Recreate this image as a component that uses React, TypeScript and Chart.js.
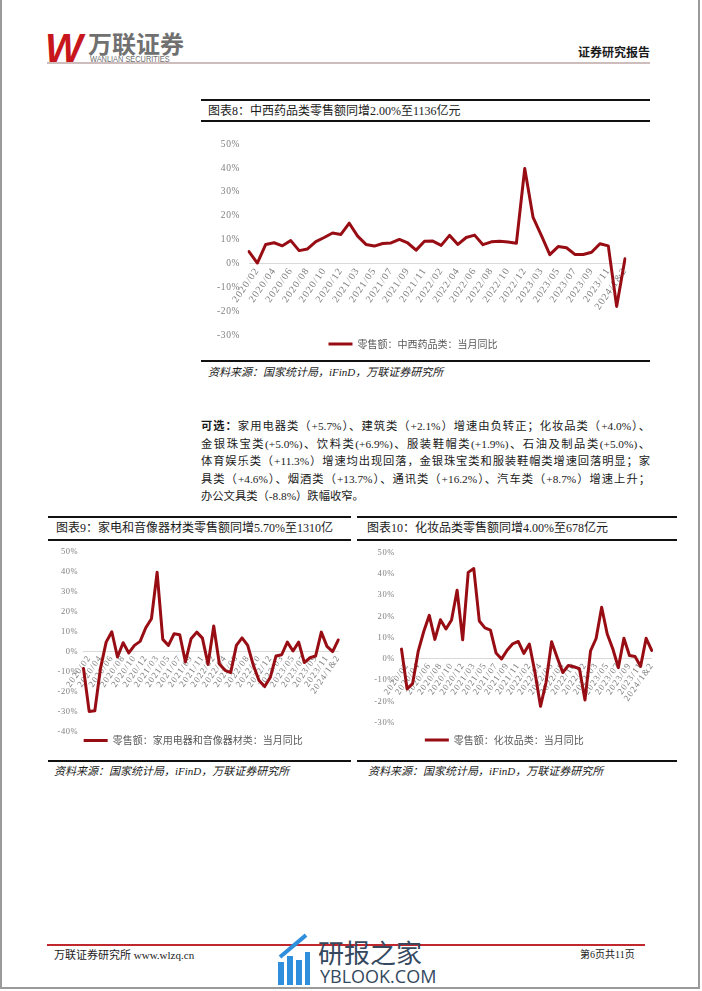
import React, { useEffect, useRef } from 'react';
import { Chart, registerables } from 'chart.js';

Chart.register(...registerables);

// ---------- data ----------
const categories: string[] = [
  '2019/12',
  '2020/02', '2020/03', '2020/04', '2020/05', '2020/06', '2020/07', '2020/08', '2020/09', '2020/10', '2020/11', '2020/12',
  '2021/02', '2021/03', '2021/04', '2021/05', '2021/06', '2021/07', '2021/08', '2021/09', '2021/10', '2021/11', '2021/12',
  '2022/02', '2022/03', '2022/04', '2022/05', '2022/06', '2022/07', '2022/08', '2022/09', '2022/10', '2022/11', '2022/12',
  '2023/02', '2023/03', '2023/04', '2023/05', '2023/06', '2023/07', '2023/08', '2023/09', '2023/10', '2023/11', '2023/12',
  '2024/1&2',
];

const medicineYoY: number[] = [
  5.0, 0.2, 8.0, 8.7, 7.4, 9.6, 5.4, 6.1, 9.2, 10.9, 12.8, 12.2,
  16.9, 11.5, 8.0, 7.3, 8.4, 8.6, 10.1, 8.6, 5.6, 9.3, 9.4,
  7.6, 11.8, 8.0, 10.9, 11.9, 7.9, 9.1, 9.3, 9.0, 8.5, 39.8,
  19.3, 11.7, 3.7, 7.1, 6.6, 3.8, 3.8, 4.7, 8.3, 7.4, -18.0,
  2.0,
];

const applianceYoY: number[] = [
  -8.6, -30.0, -29.7, -8.5, 4.6, 9.8, -2.8, 4.3, -0.8, 3.0, 5.0, 11.8,
  16.3, 39.5, 6.0, 3.0, 8.8, 8.3, -5.3, 6.3, 9.6, 6.6, -6.5,
  12.7, -6.3, -9.5, -10.6, 3.0, 6.7, 3.0, -7.0, -14.6, -17.6, -12.9,
  -2.3, -1.7, 4.6, 0.2, 4.6, -5.6, -3.2, -2.3, 9.6, 2.5, -0.1,
  5.7,
];

const cosmeticsYoY: number[] = [
  4.6, -14.1, -11.6, 3.5, 12.9, 20.5, 9.2, 18.4, 14.1, 18.3, 32.3, 9.0,
  40.7, 42.5, 17.8, 14.6, 13.5, 2.8, 0.0, 4.1, 7.1, 8.2, 2.6,
  7.0, -6.3, -22.3, -11.0, 8.1, 0.7, -6.4, -3.1, -3.7, -4.6, -19.3,
  3.8, 9.6, 24.3, 11.7, 4.8, -4.1, 9.7, 1.6, 1.1, -3.5, 9.7,
  4.0,
];

const paragraphLines: string[] = [
  '家用电器类（+5.7%）、建筑类（+2.1%）增速由负转正；化妆品类（+4.0%）、',
  '金银珠宝类(+5.0%)、饮料类(+6.9%)、服装鞋帽类(+1.9%)、石油及制品类(+5.0%)、',
  '体育娱乐类（+11.3%）增速均出现回落，金银珠宝类和服装鞋帽类增速回落明显；家',
  '具类（+4.6%）、烟酒类（+13.7%）、通讯类（+16.2%）、汽车类（+8.7%）增速上升；',
  '办公文具类（-8.8%）跌幅收窄。',
];

// ---------- styles ----------
const LINE = '#980d14';
const CJK = "'Liberation Serif', 'Noto Sans CJK SC', serif";
const CJK_SANS = "'Noto Sans CJK SC', sans-serif";
const SERIF = "'Liberation Serif', serif";

function spaceLabels(scale: any, spacing: string) {
  if (scale.__spaced) return;
  const orig = scale.drawLabels.bind(scale);
  scale.drawLabels = (area: any) => {
    const ctx = scale.ctx as any;
    ctx.save();
    ctx.letterSpacing = spacing;
    orig(area);
    ctx.restore();
  };
  scale.__spaced = true;
}

type LineBoxProps = {
  left: number; top: number; width: number; height: number;
  values: number[]; label: string;
  yMin: number; yMax: number;
  padTop: number; padRight: number; padBottom: number;
  yAxisWidth: number; yTickPad: number;
  yTickFont: number; xTickFont: number;
  legendFont: number; legendPad: number; legendLineW: number;
};

function LineBox(p: LineBoxProps) {
  const ref = useRef<HTMLCanvasElement>(null);
  useEffect(() => {
    const chart = new Chart(ref.current as HTMLCanvasElement, {
      type: 'line',
      data: {
        labels: categories,
        datasets: [
          {
            label: p.label,
            data: p.values,
            borderColor: LINE,
            backgroundColor: LINE,
            borderWidth: 3,
            pointRadius: 0,
            tension: 0,
            borderJoinStyle: 'round',
            borderCapStyle: 'round',
          },
        ],
      },
      options: {
        animation: false,
        responsive: false,
        layout: { padding: { top: p.padTop, right: p.padRight, bottom: p.padBottom, left: 0 } },
        plugins: {
          legend: {
            position: 'bottom',
            labels: {
              usePointStyle: true,
              pointStyle: 'line',
              pointStyleWidth: p.legendLineW,
              color: '#595959',
              padding: p.legendPad,
              font: { size: p.legendFont, family: CJK_SANS },
            },
          },
          tooltip: { enabled: false },
        },
        scales: {
          x: {
            type: 'category',
            position: { y: 0 } as any,
            offset: false,
            grid: { display: false, drawTicks: false },
            border: { display: true, color: '#d9d9d9', width: 1 },
            ticks: {
              autoSkip: false,
              minRotation: 55,
              maxRotation: 55,
              padding: 2,
              color: '#7f7f7f',
              font: { size: p.xTickFont, family: SERIF },
              callback: (_v: any, i: number) => (i % 2 === 1 ? categories[i] : ''),
            },
            afterUpdate: (s: any) => spaceLabels(s, '1px'),
          },
          y: {
            min: p.yMin,
            max: p.yMax,
            grid: { display: false, drawTicks: false },
            border: { display: false },
            ticks: {
              stepSize: 10,
              padding: p.yTickPad,
              color: '#7f7f7f',
              font: { size: p.yTickFont, family: SERIF },
              callback: (v: any) => `${v}%`,
            },
            afterFit: (s: any) => {
              s.width = p.yAxisWidth;
            },
            afterUpdate: (s: any) => spaceLabels(s, '0.6px'),
          },
        },
      },
    });
    return () => chart.destroy();
  }, []);
  return (
    <canvas
      ref={ref}
      width={p.width}
      height={p.height}
      style={{ position: 'absolute', left: p.left, top: p.top, width: p.width, height: p.height }}
    />
  );
}

function T(props: {
  x: number; y: number; size: number; children: React.ReactNode;
  color?: string; bold?: boolean; italic?: boolean; family?: string; style?: React.CSSProperties;
}) {
  return (
    <div
      style={{
        position: 'absolute',
        left: props.x,
        top: props.y - props.size / 2,
        fontSize: props.size,
        lineHeight: `${props.size}px`,
        color: props.color || '#1a1a1a',
        fontWeight: props.bold ? 700 : 400,
        fontStyle: props.italic ? 'italic' : 'normal',
        fontFamily: props.family || CJK,
        whiteSpace: 'nowrap',
        ...props.style,
      }}
    >
      {props.children}
    </div>
  );
}

function Rule(props: { x: number; y: number; w: number; h?: number; color?: string }) {
  return (
    <div
      style={{
        position: 'absolute',
        left: props.x,
        top: props.y,
        width: props.w,
        height: props.h || 2,
        background: props.color || '#111',
      }}
    />
  );
}

export default function App() {
  return (
    <div
      style={{
        position: 'absolute',
        left: 0,
        top: 0,
        width: 702,
        height: 991,
        background: '#fff',
        overflow: 'hidden',
      }}
    >
      {/* page frame */}
      <div style={{ position: 'absolute', left: 0, top: -2, width: 696, height: 989, borderLeft: '2px solid #9a9a9a', borderRight: '2px solid #9a9a9a', borderBottom: '2px solid #9a9a9a' }} />

      {/* header */}
      <div style={{ position: 'absolute', left: 45, top: 28, fontSize: 40, lineHeight: '40px', fontFamily: "'Liberation Sans', sans-serif", fontWeight: 700, fontStyle: 'italic', color: '#c8161d' }}>W</div>
      <div style={{ position: 'absolute', left: 88, top: 31, fontSize: 24, lineHeight: '24px', fontFamily: CJK_SANS, fontWeight: 700, color: '#707070' }}>万联证券</div>
      <div style={{ position: 'absolute', left: 90, top: 55, fontSize: 9, lineHeight: '9px', fontFamily: "'Liberation Sans', sans-serif", color: '#6e6e6e', transform: 'scaleX(0.82)', transformOrigin: 'left top', whiteSpace: 'nowrap' }}>WANLIAN SECURITIES</div>
      <T x={578} y={52} size={12} bold family={CJK_SANS}>证券研究报告</T>
      <Rule x={47} y={62} w={603} h={1.5} color="#cdbdbd" />

      {/* chart 8 */}
      <Rule x={201} y={99} w={449} />
      <T x={208} y={110.5} size={12}>图表8：中西药品类零售额同增2.00%至1136亿元</T>
      <Rule x={201} y={120} w={449} />
      <LineBox
        left={201} top={123} width={449} height={237}
        values={medicineYoY} label="零售额：中西药品类：当月同比"
        yMin={-30} yMax={50}
        padTop={21.3} padRight={25} padBottom={1}
        yAxisWidth={48} yTickPad={9}
        yTickFont={9.5} xTickFont={10}
        legendFont={10} legendPad={4} legendLineW={24}
      />
      <Rule x={201} y={360} w={449} />
      <T x={208} y={372} size={11} italic>资料来源：国家统计局，iFinD，万联证券研究所</T>

      {/* paragraph */}
      <div style={{ position: 'absolute', left: 201, top: 418, width: 449, fontSize: 11.3, lineHeight: '17.6px', fontFamily: CJK, color: '#1a1a1a' }}>
        {paragraphLines.map((line, i) => (
          <div key={i} style={{ textAlign: 'justify', textAlignLast: i < paragraphLines.length - 1 ? 'justify' : 'left', height: 17.6 }}>
            {i === 0 ? <b>可选：</b> : null}
            {line}
          </div>
        ))}
      </div>

      {/* chart 9 */}
      <Rule x={48} y={516} w={303} />
      <T x={56} y={528} size={12}>图表9：家电和音像器材类零售额同增5.70%至1310亿</T>
      <Rule x={48} y={538.5} w={303} />
      <LineBox
        left={48} top={541} width={304} height={219}
        values={applianceYoY} label="零售额：家用电器和音像器材类：当月同比"
        yMin={-40} yMax={50}
        padTop={9.7} padRight={13.7} padBottom={4.6}
        yAxisWidth={35.5} yTickPad={5.2}
        yTickFont={8.5} xTickFont={9}
        legendFont={10} legendPad={4} legendLineW={24}
      />
      <Rule x={48} y={759.5} w={303} />
      <T x={54} y={771} size={11} italic>资料来源：国家统计局，iFinD，万联证券研究所</T>

      {/* chart 10 */}
      <Rule x={357} y={516} w={320} />
      <T x={367} y={528} size={12}>图表10：化妆品类零售额同增4.00%至678亿元</T>
      <Rule x={357} y={538.5} w={320} />
      <LineBox
        left={357} top={541} width={320} height={219}
        values={cosmeticsYoY} label="零售额：化妆品类：当月同比"
        yMin={-30} yMax={50}
        padTop={7.3} padRight={25.3} padBottom={5}
        yAxisWidth={44.5} yTickPad={6.5}
        yTickFont={8.5} xTickFont={9}
        legendFont={10} legendPad={12.3} legendLineW={24}
      />
      <Rule x={357} y={759.5} w={320} />
      <T x={368} y={771} size={11} italic>资料来源：国家统计局，iFinD，万联证券研究所</T>

      {/* footer */}
      <Rule x={47} y={944} w={598} h={1.5} color="#c0282d" />
      <T x={54} y={955} size={11}>万联证券研究所 www.wlzq.cn</T>
      <T x={580} y={955} size={10}>第6页共11页</T>

      {/* watermark */}
      <div style={{ position: 'absolute', left: 278, top: 962, width: 6, height: 23, background: '#2f8fdc' }} />
      <div style={{ position: 'absolute', left: 287, top: 956, width: 6, height: 29, background: '#2f8fdc' }} />
      <div style={{ position: 'absolute', left: 296, top: 960, width: 6, height: 25, background: '#2f8fdc' }} />
      <div style={{ position: 'absolute', left: 305, top: 952, width: 5, height: 33, background: '#2f8fdc' }} />
      <div style={{ position: 'absolute', left: 280, top: 955, width: 34, height: 4, background: '#2f8fdc', transform: 'rotate(-40deg)', transformOrigin: 'left center' }} />
      <div style={{ position: 'absolute', left: 318, top: 939, fontSize: 26, lineHeight: '26px', fontFamily: CJK_SANS, color: '#34495e', whiteSpace: 'nowrap' }}>研报之家</div>
      <div style={{ position: 'absolute', left: 320, top: 967, fontSize: 18, lineHeight: '18px', fontFamily: "'Open Sans', 'Noto Sans', sans-serif", color: '#34495e', whiteSpace: 'nowrap' }}>YBLOOK.COM</div>
    </div>
  );
}
